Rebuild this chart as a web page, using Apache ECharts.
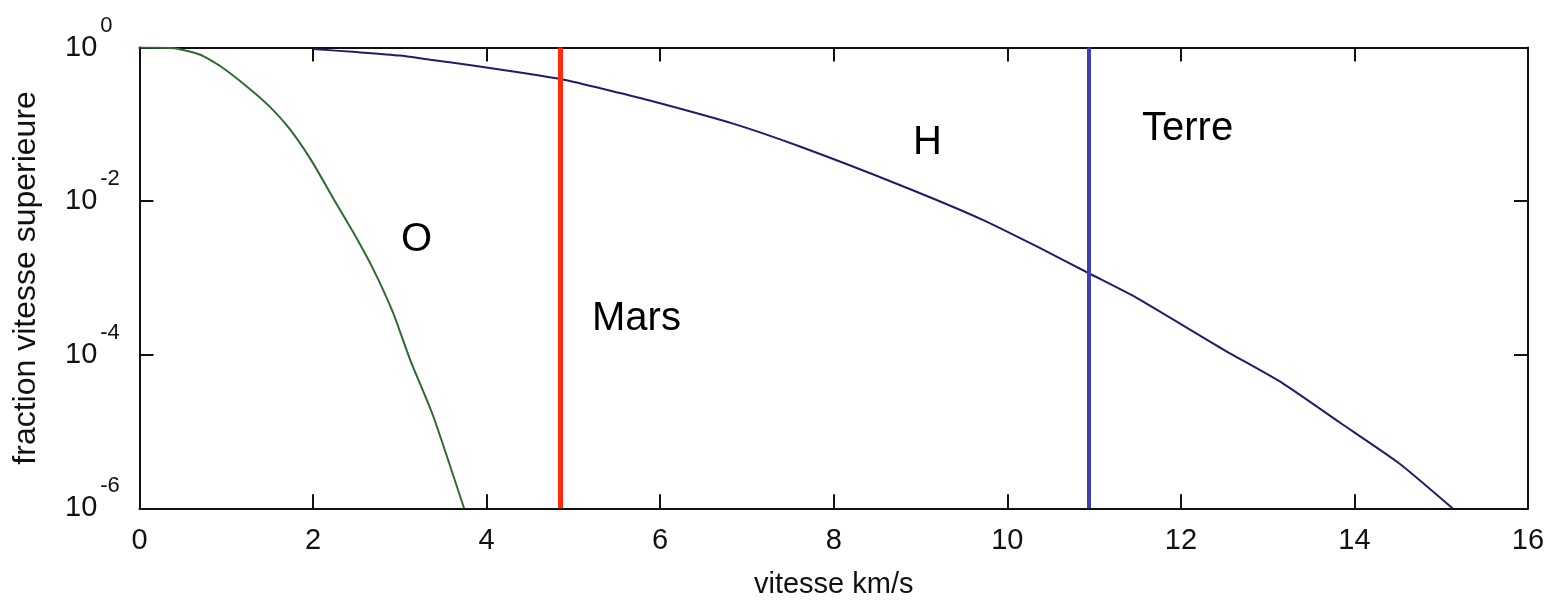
<!DOCTYPE html>
<html>
<head>
<meta charset="utf-8">
<script src="https://cdn.jsdelivr.net/npm/echarts@6/dist/echarts.min.js"></script>
<style>
  html, body { margin: 0; padding: 0; background: #ffffff; }
  #chart { width: 1551px; height: 602px; }
</style>
</head>
<body>
<div id="chart"></div>
<script>
// Fraction des molécules dont la vitesse dépasse v (km/s)
const oxygenSpeed = [0, 0.4, 0.7, 0.93, 1.25, 1.5, 1.73, 1.98, 2.23, 2.46, 2.69, 2.92, 3.12, 3.385, 3.74];
const oxygenFraction = [1, 0.977, 0.804, 0.575, 0.302, 0.170, 0.0871, 0.0339, 0.0110, 0.00398, 0.00132, 3.55e-4, 8.5e-5, 1.58e-5, 1.0e-6];

const hydrogenSpeed = [2.0, 2.5, 3.0, 3.35, 3.88, 4.85, 5.31, 5.88, 6.84, 7.61, 8.76, 9.71, 10.34, 10.94, 11.49, 12.50, 13.17, 13.84, 14.51, 15.13];
const hydrogenFraction = [0.955, 0.871, 0.785, 0.692, 0.575, 0.389, 0.295, 0.204, 0.102, 0.0513, 0.0162, 0.00575, 0.00257, 0.00115, 5.5e-4, 1.15e-4, 4.27e-5, 1.29e-5, 3.89e-6, 1.0e-6];

// Vitesses de libération
const escapeNames = ['Mars', 'Terre'];
const escapeSpeed = [4.85, 10.94];

// Axes
const xMin = 0, xMax = 16, xStep = 2;
const yMin = 1e-6, yMax = 1;
const yTickExponents = [0, -2, -4, -6];

const FONT = '"Liberation Sans", Arial, Helvetica, sans-serif';

function pairs(xs, ys) { return xs.map((x, i) => [x, ys[i]]); }

const chart = echarts.init(document.getElementById('chart'), null, { renderer: 'canvas' });

const frame = { show: true, onZero: false, lineStyle: { color: '#111', width: 2 } };
const innerTicks = { show: true, inside: true, length: 14, lineStyle: { color: '#111', width: 2 } };

function yLabel(v) {
  const e = Math.round(Math.log10(v));
  return yTickExponents.indexOf(e) >= 0 ? '{b|10}{e|' + e + '}' : '';
}

chart.setOption({
  animation: false,
  backgroundColor: '#ffffff',
  grid: { left: 139.5, right: 23, top: 47.5, bottom: 93.7, containLabel: false, outerBoundsMode: 'none' },
  xAxis: [
    {
      type: 'value', position: 'bottom', min: xMin, max: xMax, interval: xStep,
      axisLine: frame, axisTick: innerTicks, splitLine: { show: false },
      axisLabel: { color: '#111', fontFamily: FONT, fontSize: 29, margin: 18 },
      name: 'vitesse km/s', nameLocation: 'middle', nameGap: 62,
      nameTextStyle: { color: '#111', fontFamily: FONT, fontSize: 29 }
    },
    {
      type: 'value', position: 'top', min: xMin, max: xMax, interval: xStep,
      axisLine: frame, axisTick: innerTicks, splitLine: { show: false },
      axisLabel: { show: false }
    }
  ],
  yAxis: [
    {
      type: 'log', logBase: 100, position: 'left', min: yMin, max: yMax,
      axisLine: frame, axisTick: innerTicks, splitLine: { show: false }, minorTick: { show: false },
      axisLabel: {
        formatter: yLabel, align: 'left', margin: 74.5,
        rich: {
          b: { color: '#111', fontFamily: FONT, fontSize: 29 },
          e: { color: '#111', fontFamily: FONT, fontSize: 22, padding: [0, 0, 44, 3] }
        }
      },
      name: 'fraction vitesse superieure', nameLocation: 'middle', nameGap: 97, nameRotate: 90,
      nameTextStyle: { color: '#111', fontFamily: FONT, fontSize: 32 }
    },
    {
      type: 'log', logBase: 100, position: 'right', min: yMin, max: yMax,
      axisLine: frame, axisTick: innerTicks, splitLine: { show: false }, minorTick: { show: false },
      axisLabel: { show: false }
    }
  ],
  series: [
    {
      name: 'O', type: 'line', data: pairs(oxygenSpeed, oxygenFraction),
      showSymbol: false, smooth: 0.2, clip: true,
      lineStyle: { color: '#2f6a2f', width: 2 }, z: 3
    },
    {
      name: 'H', type: 'line', data: pairs(hydrogenSpeed, hydrogenFraction),
      showSymbol: false, smooth: 0.2, clip: true,
      lineStyle: { color: '#1e1e68', width: 2 }, z: 3,
      markLine: {
        silent: true, symbol: 'none', label: { show: false },
        data: [
          { xAxis: escapeSpeed[0], lineStyle: { color: '#ff2a0a', width: 5, type: 'solid' } },
          { xAxis: escapeSpeed[1], lineStyle: { color: '#3f3fb2', width: 4, type: 'solid' } }
        ]
      }
    }
  ],
  graphic: [
    { type: 'text', x: 401, y: 240, style: { text: 'O', font: '40px ' + FONT, fill: '#000', textVerticalAlign: 'middle' } },
    { type: 'text', x: 592, y: 319, style: { text: escapeNames[0], font: '40px ' + FONT, fill: '#000', textVerticalAlign: 'middle' } },
    { type: 'text', x: 913, y: 143, style: { text: 'H', font: '40px ' + FONT, fill: '#000', textVerticalAlign: 'middle' } },
    { type: 'text', x: 1142, y: 129, style: { text: escapeNames[1], font: '40px ' + FONT, fill: '#000', textVerticalAlign: 'middle' } }
  ]
});
</script>
</body>
</html>
